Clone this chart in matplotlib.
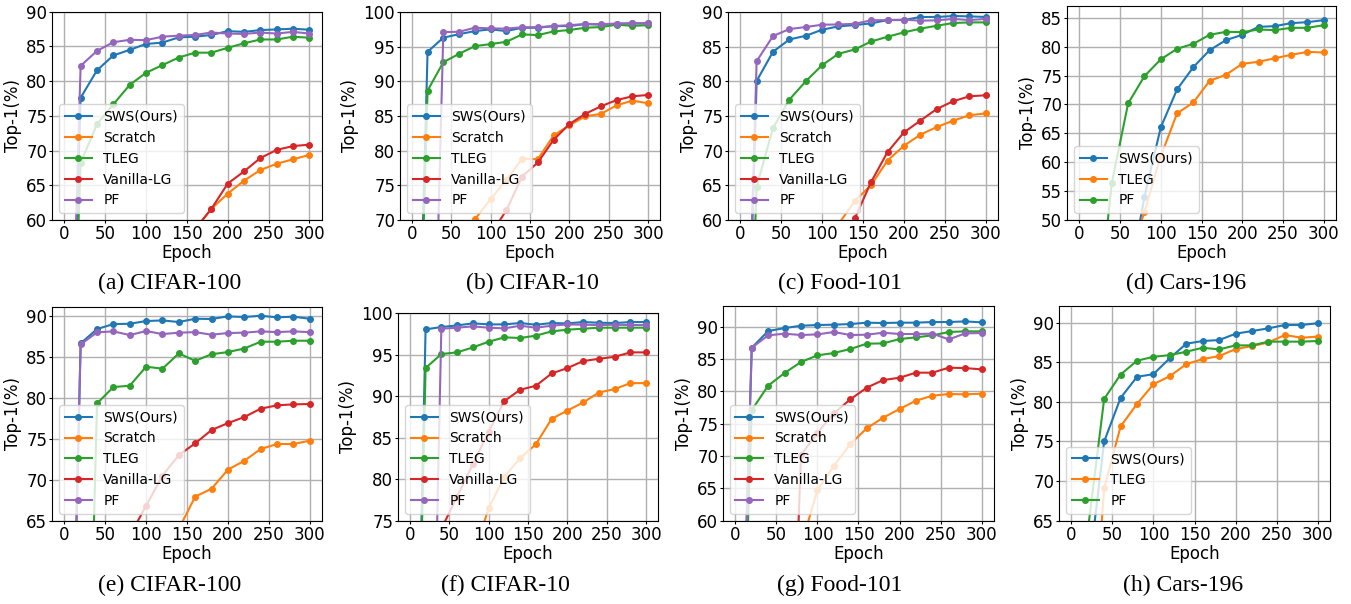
import matplotlib
matplotlib.use("Agg")
import matplotlib.pyplot as plt
from matplotlib.ticker import MultipleLocator

plt.rcParams['font.family'] = ['DejaVu Sans']

EPOCHS = [0, 20, 40, 60, 80, 100, 120, 140, 160, 180, 200, 220, 240, 260, 280, 300]

LABELS5 = ["SWS(Ours)", "Scratch", "TLEG", "Vanilla-LG", "PF"]
LABELS3 = ["SWS(Ours)", "TLEG", "PF"]

# (a) CIFAR-100
sws_a = [1, 77.6, 81.55, 83.7, 84.5, 85.35, 85.55, 86.3, 86.4, 86.65, 87.2, 87.1, 87.35, 87.45, 87.55, 87.4]
scratch_a = [1, 15, 27, 36, 43, 48.5, 53, 56, 58.6, 61.6, 63.8, 65.67, 67.2, 68.1, 68.75, 69.37]
tleg_a = [1, 68.2, 73.8, 76.65, 79.45, 81.2, 82.3, 83.4, 84.1, 84.1, 84.8, 85.45, 86.0, 86.0, 86.4, 86.25]
vlg_a = [1, 14, 26, 35, 42, 48, 52.5, 56, 58.7, 61.6, 65.24, 67.0, 68.93, 70.1, 70.65, 70.85]
pf_a = [1, 82.2, 84.35, 85.6, 85.95, 85.9, 86.4, 86.55, 86.65, 87.0, 86.85, 86.8, 87.0, 86.85, 87.1, 86.85]

# (b) CIFAR-10
sws_b = [10, 94.26, 96.3, 96.8, 97.25, 97.5, 97.25, 97.73, 97.73, 97.97, 97.97, 98.26, 98.17, 98.31, 98.36, 98.36]
scratch_b = [10, 35, 50, 62, 70.1, 73.0, 75.8, 78.83, 78.77, 82.2, 83.65, 84.95, 85.3, 86.54, 87.22, 86.83]
tleg_b = [10, 88.66, 92.76, 93.97, 95.08, 95.37, 95.7, 96.77, 96.67, 97.2, 97.4, 97.73, 97.83, 98.17, 98.0, 98.1]
vlg_b = [10, 30, 45, 55, 62, 67.9, 71.4, 76.27, 78.3, 81.57, 83.84, 85.3, 86.4, 87.3, 87.84, 88.04]
pf_b = [10, 10, 97.1, 97.15, 97.73, 97.64, 97.6, 97.8, 97.8, 97.97, 98.1, 98.26, 98.26, 98.31, 98.36, 98.36]

# (c) Food-101
sws_c = [1, 80.06, 84.26, 86.04, 86.57, 87.44, 87.93, 88.12, 88.36, 88.84, 88.84, 89.28, 89.28, 89.42, 89.37, 89.28]
scratch_c = [1, 15, 28, 38, 47, 54, 59.4, 62.74, 65.06, 68.58, 70.7, 72.3, 73.4, 74.32, 75.1, 75.38]
tleg_c = [1, 64.8, 73.26, 77.36, 80.0, 82.33, 83.97, 84.6, 85.75, 86.43, 87.06, 87.59, 88.02, 88.41, 88.5, 88.5]
vlg_c = [1, 12, 22, 31, 39, 46, 52, 60.24, 65.5, 69.8, 72.63, 74.32, 76.0, 77.12, 77.84, 77.99]
pf_c = [1, 82.9, 86.53, 87.54, 87.83, 88.17, 88.2, 88.3, 88.8, 88.84, 88.9, 88.75, 88.8, 89.0, 88.84, 89.0]

# (d) Cars-196
sws_d = [0.5, 5, 20, 38.6, 54.0, 66.03, 72.6, 76.47, 79.4, 81.14, 82.06, 83.44, 83.56, 84.08, 84.25, 84.6]
tleg_d = [0.5, 8, 25, 42.6, 51.4, 61.0, 68.45, 70.35, 74.1, 75.14, 77.04, 77.39, 78.0, 78.6, 79.1, 79.0]
pf_d = [0.5, 30, 56.45, 70.18, 74.9, 77.8, 79.64, 80.5, 82.06, 82.58, 82.52, 82.98, 82.87, 83.27, 83.27, 83.73]

# (e) CIFAR-100
sws_e = [1, 86.63, 88.37, 88.98, 89.02, 89.35, 89.43, 89.23, 89.63, 89.6, 89.92, 89.84, 90.0, 89.8, 89.88, 89.63]
scratch_e = [1, 15, 28, 40, 49, 56, 61, 64.0, 67.93, 68.9, 71.22, 72.3, 73.74, 74.35, 74.35, 74.76]
tleg_e = [1, 1, 79.3, 81.3, 81.46, 83.78, 83.54, 85.4, 84.5, 85.3, 85.57, 86.0, 86.83, 86.83, 86.95, 86.95]
vlg_e = [1, 20, 38, 52, 63.2, 66.8, 70.5, 73.0, 74.43, 76.06, 76.9, 77.64, 78.66, 79.07, 79.19, 79.23]
pf_e = [1, 86.5, 87.97, 88.09, 87.64, 88.13, 87.76, 87.93, 88.0, 87.68, 87.89, 87.93, 88.09, 88.0, 88.09, 88.0]

# (f) CIFAR-10
sws_f = [10, 98.03, 98.31, 98.51, 98.75, 98.63, 98.63, 98.79, 98.59, 98.79, 98.75, 98.91, 98.83, 98.79, 98.91, 98.91]
scratch_f = [10, 30, 48, 62, 70.5, 76.5, 80.3, 82.52, 84.2, 87.26, 88.26, 89.23, 90.43, 90.84, 91.56, 91.56]
tleg_f = [10, 93.37, 95.06, 95.26, 95.86, 96.54, 97.07, 96.99, 97.27, 97.79, 97.99, 98.11, 98.23, 98.23, 98.23, 98.23]
vlg_f = [10, 45, 74.0, 77.9, 81.8, 85.7, 89.4, 90.76, 91.24, 92.72, 93.37, 94.21, 94.49, 94.73, 95.26, 95.26]
pf_f = [10, 10, 98.11, 98.23, 98.39, 98.23, 98.15, 98.47, 98.23, 98.47, 98.63, 98.59, 98.55, 98.59, 98.55, 98.55]

# (g) Food-101
sws_g = [1, 86.75, 89.33, 89.79, 90.15, 90.26, 90.31, 90.41, 90.62, 90.57, 90.62, 90.62, 90.72, 90.72, 90.82, 90.67]
scratch_g = [1, 20, 35, 47, 56.1, 64.74, 68.45, 71.86, 74.28, 75.93, 77.27, 78.56, 79.33, 79.59, 79.54, 79.64]
tleg_g = [1, 77.1, 80.88, 82.84, 84.54, 85.57, 85.93, 86.55, 87.37, 87.42, 88.09, 88.35, 88.66, 89.18, 89.28, 89.28]
vlg_g = [1, 1, 1, 1, 70.15, 73.6, 76.6, 78.76, 80.57, 81.75, 82.11, 82.89, 82.89, 83.66, 83.6, 83.4]
pf_g = [1, 86.75, 88.66, 88.92, 88.71, 88.81, 89.18, 88.71, 88.76, 89.07, 88.87, 88.87, 88.92, 88.04, 88.97, 89.02]

# (h) Cars-196
sws_h = [0.5, 57.5, 75.0, 80.5, 83.16, 83.5, 85.52, 87.34, 87.68, 87.8, 88.6, 88.94, 89.28, 89.7, 89.7, 89.92]
tleg_h = [0.5, 39.8, 69.1, 76.9, 79.74, 82.23, 83.24, 84.76, 85.4, 85.78, 86.66, 87.04, 87.5, 88.44, 88.1, 88.23]
pf_h = [0.5, 63.7, 80.37, 83.45, 85.19, 85.69, 85.9, 86.33, 86.83, 86.62, 87.13, 87.13, 87.6, 87.6, 87.6, 87.68]

CAPTIONS = ["(a) CIFAR-100", "(b) CIFAR-10", "(c) Food-101", "(d) Cars-196",
            "(e) CIFAR-100", "(f) CIFAR-10", "(g) Food-101", "(h) Cars-196"]

W, H = 1351, 604
fig = plt.figure(figsize=(W / 100, H / 100), dpi=100)

# pixel boxes: left, right, top, bottom
boxes = [
    (52, 321.7, 11.7, 220), (400, 660, 12, 220), (728, 998, 12, 220), (1067, 1336, 5.7, 220),
    (52, 322, 306.7, 520.7), (398, 658, 313, 520.7), (723, 994, 306, 520.7), (1059, 1330, 306, 520.7),
]
ylims = [(60, 90), (70, 100), (60, 90), (50, 87.1), (65, 91.1), (75, 100), (60, 93.2), (65, 92.1)]
caption_pos = [(170, 283), (532, 283), (840, 283), (1186, 283),
               (170, 585), (505, 585), (840, 585), (1183, 585)]

panels = [
    [sws_a, scratch_a, tleg_a, vlg_a, pf_a],
    [sws_b, scratch_b, tleg_b, vlg_b, pf_b],
    [sws_c, scratch_c, tleg_c, vlg_c, pf_c],
    [sws_d, tleg_d, pf_d],
    [sws_e, scratch_e, tleg_e, vlg_e, pf_e],
    [sws_f, scratch_f, tleg_f, vlg_f, pf_f],
    [sws_g, scratch_g, tleg_g, vlg_g, pf_g],
    [sws_h, tleg_h, pf_h],
]
colors = ["C0", "C1", "C2", "C3", "C4"]

for i, series in enumerate(panels):
    l, r, t, b = boxes[i]
    ax = fig.add_axes([l / W, 1 - b / H, (r - l) / W, (b - t) / H])
    labels = LABELS5 if len(series) == 5 else LABELS3
    for j, (vals, lab) in enumerate(zip(series, labels)):
        ax.plot(EPOCHS, vals, marker="o", markersize=4, linewidth=1.5,
                color=colors[j], label=lab)
    ax.set_xlim(-15, 315)
    ax.set_ylim(*ylims[i])
    ax.xaxis.set_major_locator(MultipleLocator(50))
    ax.yaxis.set_major_locator(MultipleLocator(5))
    ax.grid(True, color="#b0b0b0", linewidth=1.0)
    ax.tick_params(labelsize=12, length=2, pad=1.5)
    ax.set_xlabel("Epoch", fontsize=12, labelpad=1)
    ax.set_ylabel("Top-1(%)", fontsize=12, labelpad=3)
    ax.legend(loc="lower left", fontsize=10)
    cx, cy = caption_pos[i]
    fig.text(cx / W, 1 - cy / H, CAPTIONS[i], ha="center", va="center",
             fontsize=17, family="Liberation Serif")

fig.savefig("out.png", dpi=100)
